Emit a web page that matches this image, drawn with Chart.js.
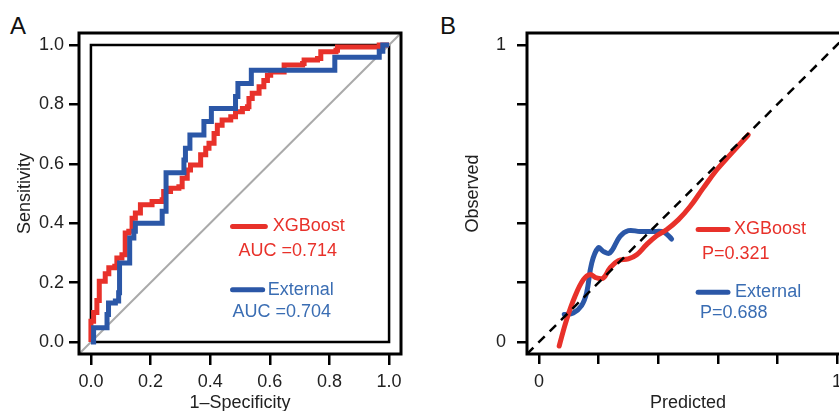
<!DOCTYPE html>
<html>
<head>
<meta charset="utf-8">
<script src="https://cdn.jsdelivr.net/npm/chart.js@4.4.1/dist/chart.umd.min.js"></script>
<style>
  html, body { margin: 0; padding: 0; background: #fff; }
  body { width: 839px; height: 411px; overflow: hidden; position: relative; font-family: "Liberation Sans", Arial, sans-serif; }
  canvas { position: absolute; top: 0; }
  #rocCanvas { left: 0; }
  #calCanvas { left: 420px; }
  .panel { position: absolute; top: 14px; font-size: 24px; line-height: 23px; color: #111; }
</style>
</head>
<body>
<div class="panel" style="left:10px">A</div>
<div class="panel" style="left:440px">B</div>
<canvas id="rocCanvas" width="420" height="411"></canvas>
<canvas id="calCanvas" width="440" height="411"></canvas>
<script>
// ---- data ----
const seriesNames = ['XGBoost', 'External'];
const aucValues = ['0.714', '0.704'];
const pValues = ['0.321', '0.688'];

// ROC curves (1-specificity, sensitivity)
const xgbFpr = [0, 0, 0.009, 0.02, 0.028, 0.048, 0.06, 0.08, 0.087, 0.104, 0.115, 0.127, 0.138, 0.149, 0.166, 0.205, 0.239, 0.244, 0.267, 0.295, 0.306, 0.323, 0.334, 0.365, 0.368, 0.385, 0.396, 0.413, 0.424, 0.44, 0.469, 0.485, 0.508, 0.525, 0.53, 0.541, 0.564, 0.58, 0.592, 0.603, 0.637, 0.648, 0.71, 0.715, 0.76, 0.771, 0.822, 0.827, 0.951, 0.967, 1.0];
const xgbTpr = [0, 0.07, 0.10, 0.14, 0.205, 0.23, 0.25, 0.255, 0.283, 0.294, 0.367, 0.373, 0.417, 0.434, 0.462, 0.473, 0.479, 0.507, 0.518, 0.523, 0.551, 0.579, 0.596, 0.596, 0.63, 0.652, 0.669, 0.702, 0.73, 0.747, 0.758, 0.775, 0.786, 0.792, 0.82, 0.837, 0.859, 0.88, 0.898, 0.909, 0.909, 0.932, 0.937, 0.949, 0.954, 0.977, 0.982, 0.993, 0.993, 1.0, 1.0];
const extFpr = [0, 0.009, 0.048, 0.054, 0.059, 0.082, 0.093, 0.096, 0.127, 0.13, 0.144, 0.149, 0.233, 0.239, 0.25, 0.252, 0.306, 0.312, 0.317, 0.332, 0.368, 0.379, 0.401, 0.404, 0.48, 0.485, 0.493, 0.536, 0.538, 0.816, 0.818, 0.956, 0.967, 0.979, 1.0];
const extTpr = [0, 0.048, 0.048, 0.093, 0.132, 0.138, 0.166, 0.266, 0.266, 0.35, 0.373, 0.40, 0.40, 0.44, 0.44, 0.57, 0.57, 0.613, 0.652, 0.697, 0.697, 0.742, 0.742, 0.786, 0.786, 0.826, 0.87, 0.87, 0.915, 0.915, 0.958, 0.958, 0.979, 1.0, 1.0];

// calibration curves (predicted, observed)
const xgbPred = [0.068, 0.093, 0.121, 0.149, 0.171, 0.194, 0.216, 0.238, 0.266, 0.30, 0.328, 0.361, 0.395, 0.428, 0.468, 0.507, 0.551, 0.596, 0.641, 0.702];
const xgbObs = [-0.013, 0.076, 0.154, 0.21, 0.227, 0.216, 0.216, 0.249, 0.274, 0.28, 0.294, 0.328, 0.358, 0.378, 0.412, 0.456, 0.518, 0.579, 0.63, 0.697];
const extPred = [0.085, 0.115, 0.143, 0.16, 0.177, 0.199, 0.216, 0.238, 0.272, 0.30, 0.339, 0.384, 0.412, 0.428, 0.445];
const extObs = [0.093, 0.098, 0.123, 0.166, 0.266, 0.317, 0.305, 0.30, 0.356, 0.375, 0.372, 0.372, 0.372, 0.364, 0.347];

const rocTicks = [0, 0.2, 0.4, 0.6, 0.8, 1.0];
const calTicks = [0, 0.2, 0.4, 0.6, 0.8, 1.0];
const axisRange = [-0.04, 1.04];

// ---- styling ----
const RED = '#e8312a';
const BLUE = '#2b57a7';
const BLUE_TEXT = '#3a6db3';
const FONT = '"Liberation Sans", Arial, sans-serif';
const zip = (xs, ys) => xs.map((v, i) => ({ x: v, y: ys[i] }));

// frame + legend text drawn over the plot
const annotate = {
  id: 'annotate',
  afterDatasetsDraw(chart, args, opts) {
    const { ctx, chartArea: a, scales: { x, y } } = chart;
    ctx.save();
    ctx.strokeStyle = '#000';
    ctx.lineWidth = 3;
    ctx.strokeRect(a.left, a.top, a.right - a.left, a.bottom - a.top);
    ctx.font = '18px ' + FONT;
    ctx.textBaseline = 'middle';
    ctx.textAlign = 'left';
    opts.items.forEach(it => {
      ctx.strokeStyle = it.line;
      ctx.lineWidth = 5;
      ctx.lineCap = 'round';
      ctx.beginPath();
      ctx.moveTo(x.getPixelForValue(it.lx[0]), y.getPixelForValue(it.ly));
      ctx.lineTo(x.getPixelForValue(it.lx[1]), y.getPixelForValue(it.ly));
      ctx.stroke();
      ctx.fillStyle = it.text;
      ctx.fillText(it.name, x.getPixelForValue(it.nx), y.getPixelForValue(it.ly));
      ctx.fillText(it.stat, x.getPixelForValue(it.sx), y.getPixelForValue(it.sy));
    });
    ctx.restore();
  }
};

function axis(ticks, title, isX, size, tickLen, pad, titlePad, labelFn) {
  return {
    type: 'linear',
    min: axisRange[0],
    max: axisRange[1],
    afterBuildTicks: s => { s.ticks = ticks.map(v => ({ value: v })); },
    afterFit: s => { if (isX) s.height = size; else s.width = size; },
    grid: { drawOnChartArea: false, drawTicks: true, tickLength: tickLen, color: '#000', lineWidth: 2.5 },
    border: { display: false },
    ticks: { color: '#222', font: { family: FONT, size: 18 }, padding: pad, maxRotation: 0, autoSkip: false, callback: labelFn },
    title: { display: true, text: title, color: '#222', font: { family: FONT, size: 18 }, padding: titlePad }
  };
}

const common = {
  responsive: false,
  animation: false,
  devicePixelRatio: 1,
  plugins: { legend: { display: false }, tooltip: { enabled: false } },
  elements: { point: { radius: 0 } }
};

new Chart(document.getElementById('rocCanvas'), {
  type: 'scatter',
  data: {
    datasets: [
      { data: zip(extFpr, extTpr), showLine: true, stepped: 'before', borderColor: BLUE, borderWidth: 5, order: 1 },
      { data: zip(xgbFpr, xgbTpr), showLine: true, stepped: 'before', borderColor: RED, borderWidth: 5, order: 2 },
      { data: zip(axisRange, axisRange), showLine: true, borderColor: '#aaaaaa', borderWidth: 2, order: 3 },
      { data: zip([0, 1, 1, 0, 0], [0, 0, 1, 1, 0]), showLine: true, borderColor: '#000', borderWidth: 2.5, order: 4 }
    ]
  },
  options: Object.assign({}, common, {
    layout: { padding: { top: 33, right: 19, left: 0, bottom: 0 } },
    scales: {
      x: axis(rocTicks, '1\u2013Specificity', true, 57, 11, 6, { top: 0, bottom: -3 }, v => v.toFixed(1)),
      y: axis(rocTicks, 'Sensitivity', false, 79, 10, 5, { top: 14, bottom: 0 }, v => v.toFixed(1))
    },
    plugins: Object.assign({}, common.plugins, {
      annotate: {
        items: [
          { name: seriesNames[0], stat: 'AUC =' + aucValues[0], line: RED, text: RED, lx: [0.475, 0.585], ly: 0.389, nx: 0.61, sx: 0.495, sy: 0.305 },
          { name: seriesNames[1], stat: 'AUC =' + aucValues[1], line: BLUE, text: BLUE_TEXT, lx: [0.475, 0.576], ly: 0.176, nx: 0.593, sx: 0.475, sy: 0.10 }
        ]
      }
    })
  }),
  plugins: [annotate]
});

new Chart(document.getElementById('calCanvas'), {
  type: 'scatter',
  data: {
    datasets: [
      { data: zip(axisRange, axisRange), showLine: true, borderColor: '#000', borderWidth: 2.5, borderDash: [9, 7], order: 1 },
      { data: zip(xgbPred, xgbObs), showLine: true, tension: 0.4, borderColor: RED, borderWidth: 5, borderCapStyle: 'round', borderJoinStyle: 'round', order: 2 },
      { data: zip(extPred, extObs), showLine: true, tension: 0.4, borderColor: BLUE, borderWidth: 5, borderCapStyle: 'round', borderJoinStyle: 'round', order: 3 }
    ]
  },
  options: Object.assign({}, common, {
    layout: { padding: { top: 33, right: 11, left: 0, bottom: 0 } },
    scales: {
      x: axis(calTicks, 'Predicted', true, 57, 10, 7, { top: 0, bottom: -3 }, v => (v === 0 || v === 1) ? String(v) : ''),
      y: axis(calTicks, 'Observed', false, 107, 10, 11, { top: 42, bottom: 0 }, v => (v === 0 || v === 1) ? String(v) : '')
    },
    plugins: Object.assign({}, common.plugins, {
      annotate: {
        items: [
          { name: seriesNames[0], stat: 'P=' + pValues[0], line: RED, text: RED, lx: [0.534, 0.634], ly: 0.379, nx: 0.654, sx: 0.547, sy: 0.295 },
          { name: seriesNames[1], stat: 'P=' + pValues[1], line: BLUE, text: BLUE_TEXT, lx: [0.534, 0.634], ly: 0.168, nx: 0.658, sx: 0.540, sy: 0.097 }
        ]
      }
    })
  }),
  plugins: [annotate]
});
</script>
</body>
</html>
